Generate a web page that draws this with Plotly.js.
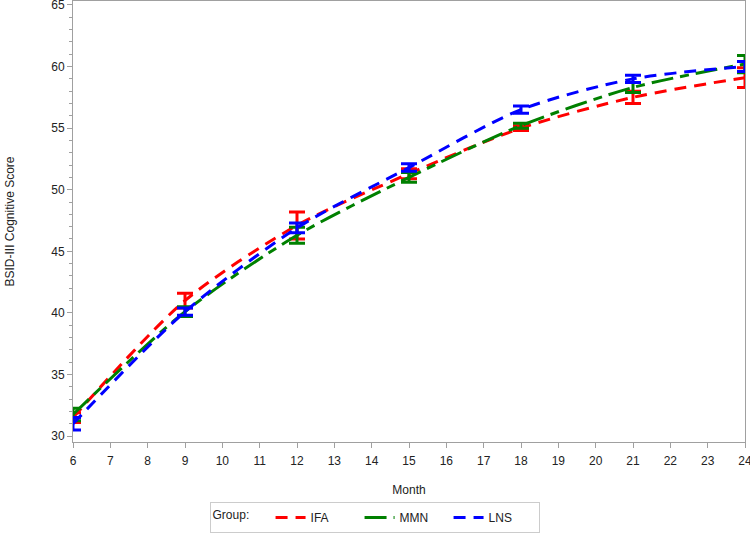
<!DOCTYPE html>
<html>
<head>
<meta charset="utf-8">
<script src="https://cdn.plot.ly/plotly-3.0.1.min.js"></script>
<style>
  body { margin: 0; background: #fff; }
  #plot { width: 750px; height: 534px; }
</style>
</head>
<body>
<div id="plot"></div>
<script>
// months measured
const months = [6, 9, 12, 15, 18, 21, 24];

// group means and error bar half-widths
const ifaMean = [31.5, 41.0, 47.1, 51.3, 55.0, 57.5, 59.1];
const ifaErr = [0.4, 0.6, 1.1, 0.4, 0.2, 0.5, 0.8];
const mmnMean = [31.75, 40.1, 46.3, 51.0, 55.2, 58.3, 60.2];
const mmnErr = [0.5, 0.4, 0.65, 0.4, 0.2, 0.4, 0.7];
const lnsMean = [31.0, 40.1, 46.9, 51.8, 56.5, 59.0, 60.0];
const lnsErr = [0.5, 0.3, 0.4, 0.3, 0.3, 0.3, 0.4];

function series(name, ys, errs, colour, dash) {
    return {
        name,
        x: months,
        y: ys,
        type: 'scatter',
        mode: 'lines',
        cliponaxis: false,
        line: { color: colour, width: 3, dash: dash, shape: 'spline', smoothing: 0.8 },
        error_y: { type: 'data', array: errs, visible: true, color: colour, thickness: 3, width: 8 },
    };
}

const data = [
    series('IFA', ifaMean, ifaErr, 'rgb(255, 0, 0)', '12px,8px'),
    series('MMN', mmnMean, mmnErr, 'rgb(0, 128, 0)', '22px,7px,9px,7px'),
    series('LNS', lnsMean, lnsErr, 'rgb(0, 0, 255)', '12px,8px'),
];

const axisCommon = {
    showline: true,
    mirror: true,
    linecolor: '#a0a0a0',
    linewidth: 1,
    showgrid: false,
    zeroline: false,
    ticks: 'outside',
    ticklen: 5,
    tickcolor: '#a0a0a0',
    ticklabeloverflow: 'allow',
    tickfont: { family: 'Liberation Sans, Arial, sans-serif', size: 12, color: '#222' },
};

const layout = {
    width: 750,
    height: 534,
    margin: { l: 73, r: 5, t: 1, b: 85 },
    paper_bgcolor: '#fff',
    plot_bgcolor: '#fff',
    font: { family: 'Liberation Sans, Arial, sans-serif', size: 12, color: '#222' },
    showlegend: true,
    xaxis: Object.assign({}, axisCommon, {
        range: [6, 24.0001],
        dtick: 1,
        tick0: 6,
        ticklabelstandoff: 3,
        title: { text: 'Month', font: { size: 12 }, standoff: 18 },
    }),
    yaxis: Object.assign({}, axisCommon, {
        range: [29.52, 65.32],
        dtick: 5,
        tick0: 30,
        minor: { dtick: 1, ticks: 'outside', ticklen: 3, tickcolor: '#a0a0a0' },
        title: { text: 'BSID-III Cognitive Score', font: { size: 12 }, standoff: 34 },
    }),
    legend: {
        orientation: 'h',
        x: 0.4487,
        xanchor: 'center',
        y: -0.136,
        yanchor: 'top',
        bordercolor: '#cccccc',
        borderwidth: 1,
        entrywidth: 44,
        itemwidth: 30,
        font: { size: 12 },
        title: { text: 'Group:    ', side: 'left', font: { size: 12 } },
    },
};

Plotly.newPlot('plot', data, layout, { displayModeBar: false, staticPlot: true });
</script>
</body>
</html>
